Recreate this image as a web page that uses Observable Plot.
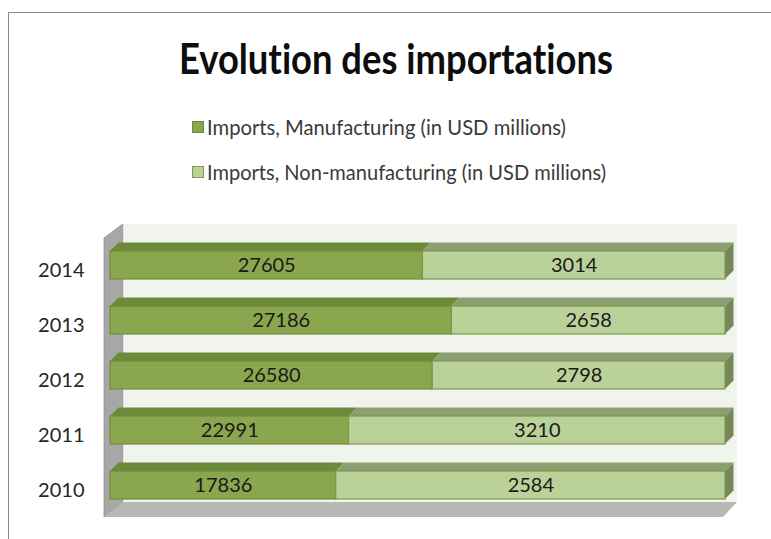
<!DOCTYPE html>
<html>
<head>
<meta charset="utf-8">
<script src="https://cdn.jsdelivr.net/npm/d3@7"></script>
<script src="https://cdn.jsdelivr.net/npm/@observablehq/plot@0.6"></script>
<style>
  body { margin: 0; background: #ffffff; }
  #wrap { position: relative; width: 771px; height: 539px; overflow: hidden; font-family: Lato, "Open Sans", sans-serif; background: #fff; font-variant-ligatures: none; }
  #border { position: absolute; left: 8px; top: 12px; width: 800px; height: 600px; border-left: 1.5px solid #8a8a8a; border-top: 1.5px solid #8a8a8a; }
  #title { position: absolute; left: 179px; top: 37px; margin: 0; font-size: 42px; line-height: 42px; font-weight: 700; color: #0d0d0d; white-space: nowrap; transform-origin: 0 0; font-variant-ligatures: none; }
  .sw { position: absolute; width: 10px; height: 10px; border: 1px solid #6b8a3a; }
  .lt { position: absolute; left: 207px; font-size: 21px; line-height: 21px; color: #3a3a3a; white-space: nowrap; transform-origin: 0 0; font-variant-ligatures: none; }
  #chart { position: absolute; left: 0; top: 215px; }
</style>
</head>
<body>
<div id="wrap">
  <div id="border"></div>
  <div id="title">Evolution des importations</div>
  <div id="legend"></div>
  <div id="chart"></div>
</div>
<script>
// ---- data ----
const years = ["2010", "2011", "2012", "2013", "2014"];
const manufacturing = [17836, 22991, 26580, 27186, 27605];
const nonManufacturing = [2584, 3210, 2798, 2658, 3014];
// share of the bar length drawn for manufacturing (%)
const manufacturingShare = [36.7, 38.8, 52.4, 55.5, 50.8];
const seriesNames = ["Imports, Manufacturing (in USD millions)", "Imports, Non-manufacturing (in USD millions)"];
const seriesColors = ["#8aa64e", "#bbd19a"];

const rows = years.map((y, i) => ({
  year: y,
  share: manufacturingShare[i],
  manuf: manufacturing[i],
  nonManuf: nonManufacturing[i]
}));

// ---- legend (HTML) ----
const legend = document.getElementById("legend");
const legTops = [115.5, 160.5];
const legTargetW = [359, 399];
const legTexts = [];
seriesNames.forEach((name, i) => {
  const sw = document.createElement("div");
  sw.className = "sw";
  sw.style.left = "192px";
  sw.style.top = (legTops[i] + 5) + "px";
  sw.style.background = seriesColors[i];
  sw.style.borderColor = i === 0 ? "#6b8a3a" : "#7f9a55";
  legend.appendChild(sw);
  const t = document.createElement("div");
  t.className = "lt";
  t.style.top = legTops[i] + "px";
  t.textContent = name;
  legend.appendChild(t);
  legTexts.push(t);
});

function fitAll() {
  const title = document.getElementById("title");
  title.style.transform = "none";
  const tw = title.getBoundingClientRect().width;
  title.style.transform = `scaleX(${434 / tw})`;
  legTexts.forEach((t, i) => {
    t.style.transform = "none";
    const w = t.getBoundingClientRect().width;
    t.style.transform = `scaleX(${legTargetW[i] / w})`;
  });
}
fitAll();
if (document.fonts && document.fonts.ready) document.fonts.ready.then(fitAll);

// ---- chart ----
const chart = Plot.plot({
  width: 771,
  height: 324,
  marginLeft: 110,
  marginRight: 46,
  marginTop: 18,
  marginBottom: 23,
  style: { fontFamily: "Lato, 'Open Sans', sans-serif", fontSize: "20px", background: "transparent", overflow: "visible" },
  x: { domain: [0, 100], axis: null },
  y: { domain: years.slice().reverse(), paddingInner: 0.4955, paddingOuter: 0.3, axis: null },
  marks: [
    Plot.barX(rows, { y: "year", x1: 0, x2: "share", fill: seriesColors[0], stroke: "#6f8e3c", strokeWidth: 1.2 }),
    Plot.barX(rows, { y: "year", x1: "share", x2: 100, fill: seriesColors[1], stroke: "#7a9a48", strokeWidth: 1.2 }),
    Plot.text(rows, { y: "year", x: d => d.share / 2, text: d => String(d.manuf), fill: "#1a1a1a", fontSize: 20 }),
    Plot.text(rows, { y: "year", x: d => (d.share + 100) / 2, text: d => String(d.nonManuf), fill: "#1a1a1a", fontSize: 20 }),
    Plot.text(years, { y: d => d, frameAnchor: "left", textAnchor: "end", dx: -26, dy: 5, text: d => d, fill: "#262626", fontSize: 20 })
  ]
});

// 3D decorations drawn with the plot's own scales
const xs = chart.scale("x");
const ysc = chart.scale("y");
const sx = xs.apply, sy = ysc.apply, bw = ysc.bandwidth;
const [X0, X1] = xs.range;
const [Y0, Y1] = ysc.range;
const svg = d3.select(chart);
const deco = svg.insert("g", ":first-child");
const pts = a => a.map(p => p.join(",")).join(" ");

// back wall, left wall and floor
const wallDx = 18.7, wallDy = -15;
const fl = X0 - 6, fb = Y1 + 1, ftop = Y0 + 5;
deco.append("rect").attr("x", fl + wallDx).attr("y", ftop - 14).attr("width", X1 + 12 - (fl + wallDx)).attr("height", fb + wallDy - (ftop - 14)).attr("fill", "#f1f4ec");
deco.append("polygon").attr("points", pts([[fl, ftop], [fl + wallDx, ftop - 14], [fl + wallDx, fb + wallDy], [fl, fb]])).attr("fill", "#a7a7a7").attr("stroke", "#8f8f8f").attr("stroke-width", 0.8);
deco.append("polygon").attr("points", pts([[fl, fb], [fl + wallDx, fb + wallDy], [X1 + 12, fb + wallDy], [X1 - 2, fb]])).attr("fill", "#b8b8b5");

// bar top and side faces
const dx = 8.5, dy = -8.5;
rows.forEach(r => {
  const top = sy(r.year), bot = top + bw;
  const a = sx(0), m = sx(r.share), b = sx(100);
  deco.append("polygon").attr("points", pts([[a, top], [m, top], [m + dx, top + dy], [a + dx, top + dy]])).attr("fill", "#6b8a3a");
  deco.append("polygon").attr("points", pts([[m, top], [b, top], [b + dx, top + dy], [m + dx, top + dy]])).attr("fill", "#8d9e72");
  deco.append("polygon").attr("points", pts([[b, top], [b + dx, top + dy], [b + dx, bot + dy], [b, bot]])).attr("fill", "#76875a");
});

document.getElementById("chart").appendChild(chart);
</script>
</body>
</html>
